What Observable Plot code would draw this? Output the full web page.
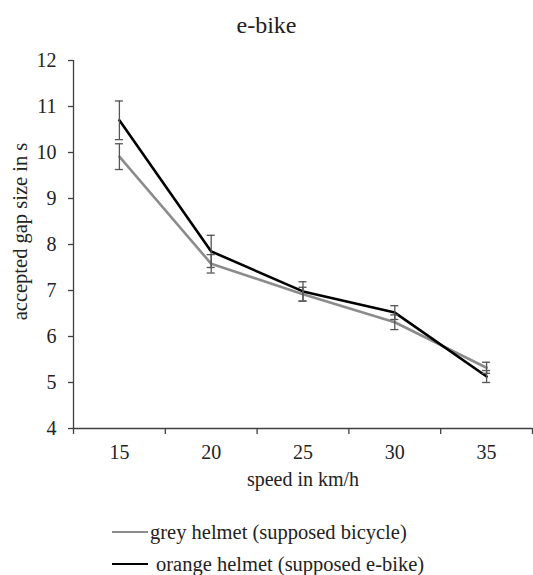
<!DOCTYPE html>
<html>
<head>
<meta charset="utf-8">
<script src="https://cdn.jsdelivr.net/npm/d3@7"></script>
<script src="https://cdn.jsdelivr.net/npm/@observablehq/plot@0.6"></script>
<style>
  body { margin: 0; background: #fff; color: #222; }
  #wrap { width: 533px; }
  #title { height: 45px; line-height: 50px; text-align: center; font-size: 24px; }
  #legend { margin-top: 11px; font-size: 20.5px; }
  .row { height: 32px; display: flex; align-items: center; padding-left: 112px; }
  .sw { width: 36px; height: 0; border-top: 2.5px solid; margin-right: 2px; }
</style>
</head>
<body>
<div id="wrap">
  <div id="title" style="font-family:'Liberation Serif', 'Times New Roman', serif">e-bike</div>
  <div id="chart"></div>
  <div id="legend"></div>
</div>
<script>
const speeds = [15, 20, 25, 30, 35];
const seriesNames = ["grey helmet (supposed bicycle)", "orange helmet (supposed e-bike)"];
const greyMean = [9.91, 7.58, 6.92, 6.31, 5.32];
const greyErr = [0.28, 0.20, 0.15, 0.16, 0.12];
const orangeMean = [10.70, 7.85, 6.98, 6.52, 5.13];
const orangeErr = [0.42, 0.35, 0.21, 0.15, 0.13];
const yTicks = [4, 5, 6, 7, 8, 9, 10, 11, 12];
const xLabel = "speed in km/h";
const yLabel = "accepted gap size in s";
const colors = ["#8c8c8c", "#000000"];

const data = [];
speeds.forEach((s, i) => {
  data.push({speed: s, series: seriesNames[0], mean: greyMean[i], err: greyErr[i]});
  data.push({speed: s, series: seriesNames[1], mean: orangeMean[i], err: orangeErr[i]});
});

const boundaries = [12.5, 17.5, 22.5, 27.5, 32.5, 37.5];
const capHalf = 0.22;
const axisColor = "#404040";
const serif = "'Liberation Serif', 'Times New Roman', serif";

const chart = Plot.plot({
  width: 533,
  height: 460,
  marginLeft: 73,
  marginRight: 1,
  marginTop: 15,
  marginBottom: 77,
  style: {fontFamily: serif, fontSize: "20px", color: "#222", background: "#fff"},
  x: {type: "linear", domain: [12.5, 37.5]},
  y: {domain: [4, 12]},
  color: {domain: seriesNames, range: colors},
  marks: [
    Plot.axisY({ticks: yTicks, tickSize: 5, tickPadding: 12, stroke: axisColor, strokeWidth: 1.3, label: null, fontSize: 20}),
    Plot.text([yLabel], {frameAnchor: "left", textAnchor: "middle", rotate: -90, dx: -53, dy: -13, fontSize: 20.5, fill: "#222"}),
    Plot.axisX({ticks: boundaries, tickSize: 6, tickFormat: () => "", stroke: axisColor, strokeWidth: 1.3, label: null}),
    Plot.axisX({ticks: speeds, tickSize: 0, tickPadding: 16, label: xLabel, labelAnchor: "center", labelArrow: "none", labelOffset: 57, fontSize: 20}),
    Plot.ruleX([12.5], {y1: 4, y2: 12, stroke: axisColor, strokeWidth: 1.3}),
    Plot.ruleY([4], {x1: 12.5, x2: 37.5, stroke: axisColor, strokeWidth: 1.3}),
    Plot.line(data, {x: "speed", y: "mean", stroke: "series", z: "series", strokeWidth: 2.6}),
    Plot.ruleX(data, {x: "speed", y1: d => d.mean - d.err, y2: d => d.mean + d.err, stroke: "#555", strokeWidth: 1.3}),
    Plot.ruleY(data, {y: d => d.mean + d.err, x1: d => d.speed - capHalf, x2: d => d.speed + capHalf, stroke: "#555", strokeWidth: 1.3}),
    Plot.ruleY(data, {y: d => d.mean - d.err, x1: d => d.speed - capHalf, x2: d => d.speed + capHalf, stroke: "#555", strokeWidth: 1.3})
  ]
});
chart.querySelectorAll("text, tspan").forEach(t => { t.style.fontFamily = serif; });
document.getElementById("chart").appendChild(chart);

const legend = document.getElementById("legend");
seriesNames.forEach((name, i) => {
  const row = document.createElement("div");
  row.className = "row";
  const sw = document.createElement("div");
  sw.className = "sw";
  sw.style.borderTopColor = colors[i];
  if (i === 1) sw.style.marginRight = "8px";
  const t = document.createElement("span");
  t.textContent = name;
  t.style.fontFamily = serif;
  row.appendChild(sw);
  row.appendChild(t);
  legend.appendChild(row);
});
</script>
</body>
</html>
